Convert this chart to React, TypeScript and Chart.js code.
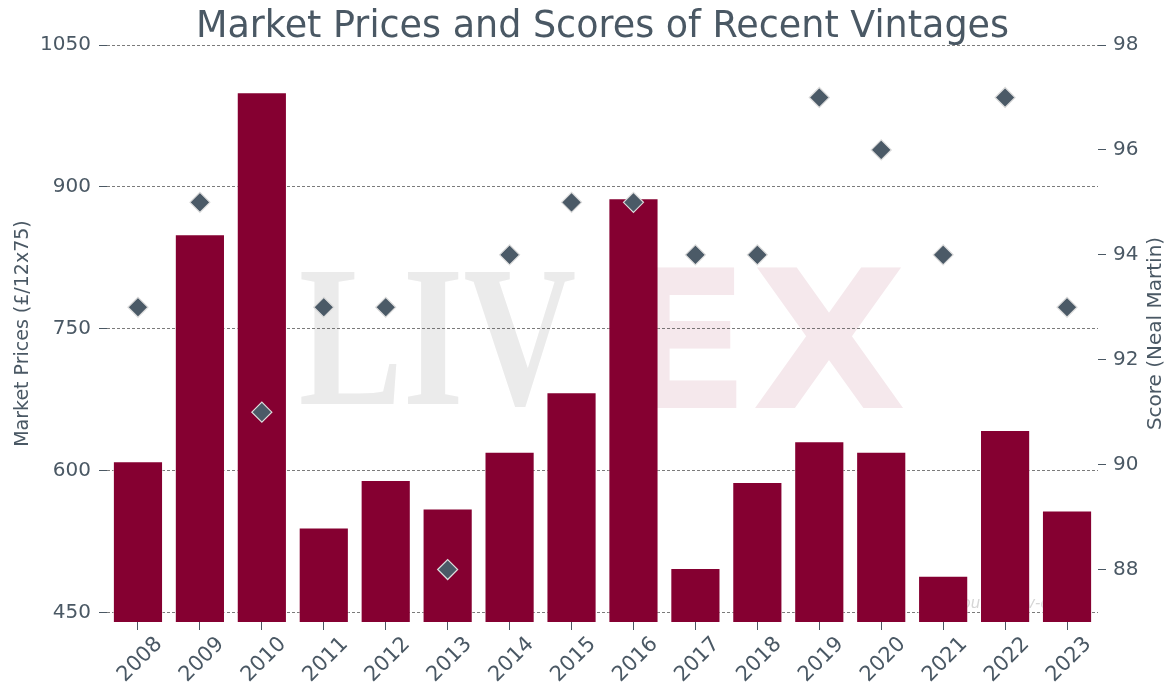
import React, { useEffect, useRef } from 'react';
import { Chart, registerables } from 'chart.js';

Chart.register(...registerables);

const vintages = ['2008', '2009', '2010', '2011', '2012', '2013', '2014', '2015', '2016', '2017', '2018', '2019', '2020', '2021', '2022', '2023'];
const marketPrices = [610, 850, 1000, 540, 590, 560, 620, 683, 888, 497, 588, 631, 620, 489, 643, 558];
const scores = [93, 95, 91, 93, 93, 88, 94, 95, 95, 94, 94, 97, 96, 94, 97, 93];
const priceTicks = [450, 600, 750, 900, 1050];
const scoreTicks = [88, 90, 92, 94, 96, 98];

const titleText = 'Market Prices and Scores of Recent Vintages';
const priceAxisLabel = 'Market Prices (£/12x75)';
const scoreAxisLabel = 'Score (Neal Martin)';
const watermarkLeft = 'LIV';
const watermarkRight = 'EX';
const sourceNote = 'Source: Liv-ex';

const FONT = "'DejaVu Sans', sans-serif";
const TEXT = '#4a5864';
const BAR = '#850031';
const MARK = '#4b5a67';

function drawFitted(ctx: CanvasRenderingContext2D, text: string, family: string, weight: string, color: string, x0: number, x1: number, yTop: number, yBase: number) {
  const capH = yBase - yTop;
  ctx.font = `${weight} 100px ${family}`;
  const m = ctx.measureText(text);
  const size = (100 * capH) / m.actualBoundingBoxAscent;
  ctx.font = `${weight} ${size}px ${family}`;
  const m2 = ctx.measureText(text);
  const inkW = m2.actualBoundingBoxLeft + m2.actualBoundingBoxRight;
  const sx = (x1 - x0) / inkW;
  ctx.save();
  ctx.translate(x0, yBase);
  ctx.scale(sx, 1);
  ctx.textAlign = 'left';
  ctx.textBaseline = 'alphabetic';
  ctx.fillStyle = color;
  ctx.fillText(text, m2.actualBoundingBoxLeft, 0);
  ctx.restore();
}

const decorPlugin = {
  id: 'decor',
  beforeDraw(chart: any) {
    const ctx = chart.ctx as CanvasRenderingContext2D;
    ctx.save();
    drawFitted(ctx, watermarkLeft, "'Liberation Serif', serif", 'bold', '#ebebeb', 301, 575, 273, 404);
    drawFitted(ctx, watermarkRight, "'DejaVu Sans', sans-serif", 'bold', '#f5e8ec', 631, 904, 268, 408);
    ctx.font = `italic 15px ${FONT}`;
    ctx.fillStyle = '#d6d6d6';
    ctx.textAlign = 'left';
    ctx.textBaseline = 'alphabetic';
    ctx.fillText(sourceNote, 952, 608);
    ctx.restore();
  },
  afterDraw(chart: any) {
    const ctx = chart.ctx as CanvasRenderingContext2D;
    const area = chart.chartArea;
    const s = chart.scales.y1;
    ctx.save();
    ctx.font = `36.5px ${FONT}`;
    ctx.fillStyle = TEXT;
    ctx.textAlign = 'center';
    ctx.textBaseline = 'alphabetic';
    ctx.fillText(titleText, (area.left + area.right) / 2, 37);
    ctx.restore();
    ctx.save();
    ctx.translate(s.right - 14, (area.top + area.bottom) / 2);
    ctx.rotate(-Math.PI / 2);
    ctx.font = `20px ${FONT}`;
    ctx.fillStyle = TEXT;
    ctx.textAlign = 'center';
    ctx.textBaseline = 'middle';
    ctx.fillText(scoreAxisLabel, 0, 0);
    ctx.restore();
  },
};

export default function App() {
  const ref = useRef<HTMLCanvasElement>(null);

  useEffect(() => {
    if (!ref.current) return;
    const chart = new Chart(ref.current, {
      type: 'bar',
      data: {
        labels: vintages,
        datasets: [
          {
            type: 'line',
            label: 'Score',
            data: scores,
            yAxisID: 'y1',
            showLine: false,
            pointStyle: 'rectRot',
            pointRadius: 10,
            pointBackgroundColor: MARK,
            pointBorderColor: '#dcdcdc',
            pointBorderWidth: 1.2,
            order: 0,
          } as any,
          {
            type: 'bar',
            label: 'Market Price',
            data: marketPrices,
            yAxisID: 'y',
            backgroundColor: BAR,
            borderColor: 'rgba(255,255,255,0.55)',
            borderWidth: 1,
            barPercentage: 0.81,
            categoryPercentage: 1.0,
            order: 1,
          },
        ],
      },
      options: {
        responsive: false,
        animation: false,
        devicePixelRatio: 1,
        layout: { padding: { top: 45, left: 0, right: 0, bottom: 0 } },
        plugins: {
          legend: { display: false },
          tooltip: { enabled: false },
          title: { display: false },
        },
        scales: {
          x: {
            offset: true,
            grid: { display: true, offset: false, drawOnChartArea: false, tickLength: 8, tickColor: TEXT, tickWidth: 1 },
            border: { display: false },
            ticks: { font: { family: FONT, size: 21 }, color: TEXT, maxRotation: 45, minRotation: 45, labelOffset: 21, padding: 2, autoSkip: false },
            afterFit: (s: any) => { s.height = 66; },
          },
          y: {
            position: 'left',
            min: 440,
            max: 1050,
            afterBuildTicks: (s: any) => { s.ticks = priceTicks.map((v) => ({ value: v })); },
            grid: { color: 'rgba(60,60,60,0.85)', lineWidth: 0.8, tickLength: 8, tickColor: TEXT, tickWidth: 1, tickBorderDash: [] } as any,
            border: { display: false, dash: [3, 2] },
            ticks: { font: { family: FONT, size: 20 }, color: TEXT, padding: 8, callback: (v: any) => String(v) },
            title: { display: true, text: priceAxisLabel, color: TEXT, font: { family: FONT, size: 19 }, padding: { top: 12, bottom: 0 } },
            afterFit: (s: any) => { s.width = 107; },
          },
          y1: {
            position: 'right',
            min: 87,
            max: 98,
            afterBuildTicks: (s: any) => { s.ticks = scoreTicks.map((v) => ({ value: v })); },
            grid: { drawOnChartArea: false, tickLength: 8, tickColor: TEXT, tickWidth: 1 },
            border: { display: false },
            ticks: { font: { family: FONT, size: 20 }, color: TEXT, padding: 7, callback: (v: any) => String(v) },
            afterFit: (s: any) => { s.width = 72; },
          },
        },
      },
      plugins: [decorPlugin],
    });
    return () => chart.destroy();
  }, []);

  return (
    <div style={{ position: 'absolute', left: 0, top: 0, width: 1170, height: 688, background: '#ffffff' }}>
      <canvas ref={ref} width={1170} height={688} style={{ display: 'block' }} />
    </div>
  );
}
